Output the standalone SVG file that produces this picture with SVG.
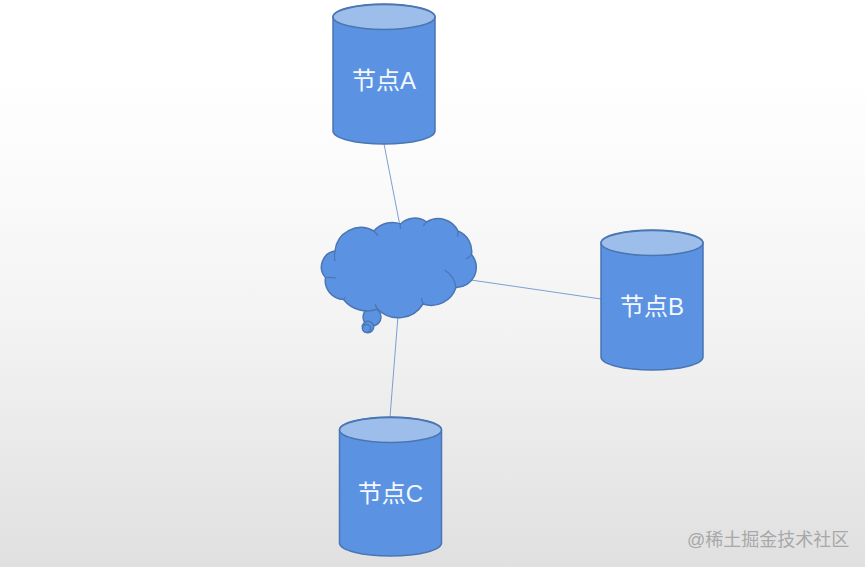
<svg xmlns="http://www.w3.org/2000/svg" width="865" height="567" viewBox="0 0 865 567">
<defs>
<linearGradient id="bg" x1="0" y1="0" x2="0" y2="1"><stop offset="0" stop-color="#ffffff"/><stop offset="0.12" stop-color="#ffffff"/><stop offset="0.3" stop-color="#fbfbfb"/><stop offset="0.57" stop-color="#f3f3f3"/><stop offset="1" stop-color="#e0e0e0"/></linearGradient>
</defs>
<style>
.line{stroke:#7ba0d4;stroke-width:1;fill:none}
.body{fill:#5b93e2;stroke:#4a76b2;stroke-width:1.500}
.lid{fill:#9dbdeb;stroke:#4a76b2;stroke-width:1.500}
.detail{fill:none;stroke:#4a76b2;stroke-width:1.200}
.label{font-family:"Liberation Sans","Noto Sans CJK SC",sans-serif;font-size:24px;fill:#f4f8fe;text-anchor:middle}
.mark{font-family:"Liberation Sans","Noto Sans CJK SC",sans-serif;font-size:18px;fill:#a8a8a8}
</style>
<rect width="865" height="567" fill="url(#bg)"/>
<g id="connectors">
<path class="line" d="M384 144L400 226"/>
<path class="line" d="M471 280L601 299"/>
<path class="line" d="M398 316L390 417"/>
</g>
<g id="node-a">
<path class="body" d="M333 17A51 13 0 0 1 435 17V131A51 13 0 0 1 333 131Z"/>
<ellipse class="lid" cx="384" cy="17" rx="51" ry="12.500"/>
<text class="label" x="384" y="89">节点A</text>
</g>
<g id="node-b">
<path class="body" d="M601 243A51 13 0 0 1 703 243V357A51 13 0 0 1 601 357Z"/>
<ellipse class="lid" cx="652" cy="243" rx="51" ry="12.500"/>
<text class="label" x="652" y="315">节点B</text>
</g>
<g id="node-c">
<path class="body" d="M339.500 430A51 13 0 0 1 441.500 430V543A51 13 0 0 1 339.500 543Z"/>
<ellipse class="lid" cx="390.500" cy="430" rx="51" ry="12.500"/>
<text class="label" x="390.500" y="502">节点C</text>
</g>
<g id="cloud">
<circle class="body" cx="372" cy="317" r="9"/>
<circle class="body" cx="368" cy="327" r="5.700"/>
<circle class="body" cx="366.500" cy="328.500" r="4"/>
<path class="body" d="M335 251A26 26 0 0 1 374 231A24 24 0 0 1 400.500 224A20 20 0 0 1 426.500 222A22 22 0 0 1 458 231A22 22 0 0 1 471.500 254.500A20 20 0 0 1 456 287.500A26 26 0 0 1 423 304A29 29 0 0 1 377.500 309A30 30 0 0 1 343.500 299.500A19 19 0 0 1 325.500 277.500A16 16 0 0 1 335 251Z"/>
<path class="detail" d="M335 251Q334 256 335 261M374 231Q376 233 378 236M400.500 224Q400 226 400.500 229M426.500 222Q425 224 423 226M458 231Q458 234 457.500 237M471.500 254.500Q470 257 466 259M456 287.500A24 24 0 0 0 444.500 270M423 304Q422 301 421.500 298M377.500 309Q376 307 375 304M343.500 299.500L345.500 297M325.500 277.500Q330 277 336 278"/>
</g>
<text class="mark" x="687" y="546">@稀土掘金技术社区</text>
</svg>
